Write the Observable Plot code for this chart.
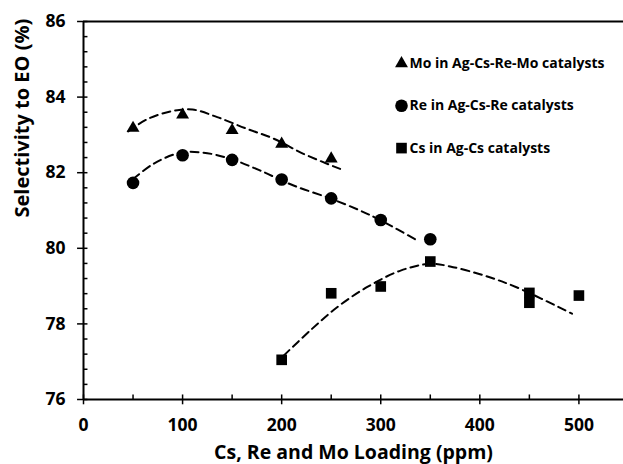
<!DOCTYPE html>
<html><head><meta charset="utf-8">
<script src="https://cdn.jsdelivr.net/npm/d3@7"></script>
<script src="https://cdn.jsdelivr.net/npm/@observablehq/plot@0.6"></script>
<style>body{margin:0;background:#fff}#chart{width:623px;height:464px}</style>
</head><body><div id="chart"></div>
<script>
// Measured points
const loadingMo = [50, 100, 150, 200, 250];
const selectivityMo = [83.18, 83.53, 83.12, 82.76, 82.37];
const loadingRe = [50, 100, 150, 200, 250, 300, 350];
const selectivityRe = [81.73, 82.46, 82.34, 81.82, 81.32, 80.75, 80.24];
const loadingCs = [200, 250, 300, 350, 450, 450, 500];
const selectivityCs = [77.05, 78.81, 78.99, 79.65, 78.82, 78.56, 78.75];

// Dashed trendlines
const trendMoX = [45, 64, 88, 110, 135, 165, 192, 222, 259];
const trendMoY = [83.09, 83.41, 83.62, 83.67, 83.47, 83.16, 82.90, 82.50, 82.10];
const trendReX = [50, 71, 98, 121, 148, 178, 212, 250, 279, 300, 338];
const trendReY = [81.83, 82.24, 82.53, 82.53, 82.37, 82.06, 81.66, 81.31, 81.00, 80.74, 80.19];
const trendCsX = [202, 229, 256, 286, 320, 350, 370, 403, 437, 493];
const trendCsY = [77.16, 77.83, 78.44, 78.97, 79.41, 79.59, 79.52, 79.29, 78.97, 78.27];

// Series labels & symbols
const seriesNames = ["Mo in Ag-Cs-Re-Mo catalysts", "Re in Ag-Cs-Re catalysts", "Cs in Ag-Cs catalysts"];
const seriesSymbols = ["triangle", "circle", "square"];

// Axes
const xTicks = [0, 100, 200, 300, 400, 500];
const xMinorTicks = [50, 150, 250, 350, 450];
const yTicks = [76, 78, 80, 82, 84, 86];
const yMinorTicks = d3.range(76, 86, 0.4).map(v => +v.toFixed(1)).filter(v => Math.abs(v - Math.round(v)) > 0.05 || Math.round(v) % 2 === 1);
const xTitle = "Cs, Re and Mo Loading (ppm)";
const yTitle = "Selectivity to EO (%)";

const pts = (xs, ys) => xs.map((x, i) => ({x, y: ys[i]}));
const mo = pts(loadingMo, selectivityMo);
const re = pts(loadingRe, selectivityRe);
const cs = pts(loadingCs, selectivityCs);
const tMo = pts(trendMoX, trendMoY);
const tRe = pts(trendReX, trendReY);
const tCs = pts(trendCsX, trendCsY);

const font = "'Open Sans', sans-serif";
const dash = {x: "x", y: "y", stroke: "black", strokeWidth: 2, strokeDasharray: "8,5", curve: "catmull-rom"};
const radii = [4.8, 6.3, 6];

const legendMarks = seriesNames.flatMap((name, i) => [
  Plot.dot([name], {frameAnchor: "top-left", dx: 318, dy: 42 + i * 42.3, symbol: seriesSymbols[i], r: radii[i], fill: "black", stroke: "none"}),
  Plot.text([name], {frameAnchor: "top-left", dx: 326, dy: 42 + i * 42.3, text: d => d, textAnchor: "start", lineAnchor: "middle", fontSize: 14, fontWeight: 700, fill: "black"})
]);

const chart = Plot.plot({
  width: 623, height: 464,
  marginLeft: 83, marginRight: 0, marginTop: 21, marginBottom: 65,
  x: {domain: [0, 545]},
  y: {domain: [76, 86]},
  style: {fontFamily: font, color: "black", background: "white"},
  marks: [
    Plot.axisX({ticks: xTicks, tickSize: 0, tickPadding: 19, fontSize: 17.5, fontWeight: 700, label: null, tickFormat: d => d}),
    Plot.axisY({ticks: yTicks, tickSize: 0, tickPadding: 18, fontSize: 17.5, fontWeight: 700, label: null, tickFormat: d => d}),
    Plot.text([xTitle], {frameAnchor: "bottom", dy: 53, text: d => d, lineAnchor: "middle", fontSize: 19.5, fontWeight: 700, fill: "black"}),
    Plot.text([yTitle], {frameAnchor: "left", dx: -61, dy: 7, rotate: -90, text: d => d, lineAnchor: "middle", fontSize: 20, fontWeight: 700, fill: "black"}),
    // minor & major ticks
    Plot.ruleY(yMinorTicks, {x1: 0, x2: 4.5, stroke: "black", strokeWidth: 1.5}),
    Plot.ruleY(yTicks, {x1: -6, x2: 4.5, stroke: "black", strokeWidth: 1.5}),
    Plot.ruleX(xMinorTicks, {y1: 76, y2: 76.12, stroke: "black", strokeWidth: 1.5}),
    Plot.ruleX(xTicks, {y1: 75.86, y2: 76.12, stroke: "black", strokeWidth: 1.5}),
    Plot.ruleX([0], {stroke: "black", strokeWidth: 2}),
    Plot.ruleY([76, 86], {stroke: "black", strokeWidth: 2}),
    // data
    Plot.dot(mo, {x: "x", y: "y", symbol: "triangle", r: radii[0], fill: "black", stroke: "none"}),
    Plot.dot(re, {x: "x", y: "y", symbol: "circle", r: radii[1], fill: "black", stroke: "none"}),
    Plot.dot(cs, {x: "x", y: "y", symbol: "square", r: radii[2], fill: "black", stroke: "none"}),
    Plot.line(tMo, dash),
    Plot.line(tRe, dash),
    Plot.line(tCs, dash),
    ...legendMarks
  ]
});
document.getElementById("chart").append(chart);
</script>
</body></html>
